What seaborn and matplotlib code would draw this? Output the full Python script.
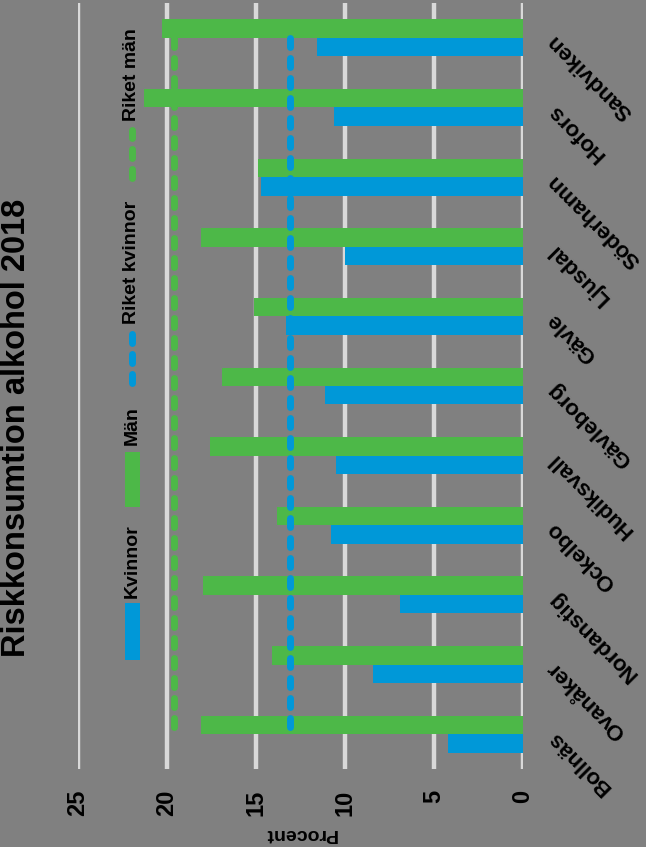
import numpy as np
import pandas as pd
import matplotlib
matplotlib.use("Agg")
import matplotlib.pyplot as plt
import seaborn as sns
from matplotlib.patches import Rectangle
from matplotlib.lines import Line2D

# ---------------- data ----------------
kommuner = ["Sandviken", "Hofors", "Söderhamn", "Ljusdal", "Gävle", "Gävleborg",
            "Hudiksvall", "Ockelbo", "Nordanstig", "Ovanåker", "Bollnäs"]
kvinnor = [11.6, 10.6, 14.7, 10.0, 13.3, 11.1, 10.5, 10.8, 6.9, 8.4, 4.2]
man = [20.3, 21.3, 14.9, 18.1, 15.1, 16.9, 17.6, 13.8, 18.0, 14.1, 18.1]
riket_kvinnor = [13.1, 13.1, 13.1, 13.1, 13.1, 13.1, 13.1, 13.1, 13.1, 13.1, 13.1]
riket_man = [19.6, 19.6, 19.6, 19.6, 19.6, 19.6, 19.6, 19.6, 19.6, 19.6, 19.6]
x_ticks = [0, 5, 10, 15, 20, 25]
series_names = ["Kvinnor", "Män", "Riket kvinnor", "Riket män"]
title = "Riskkonsumtion alkohol 2018"
x_label = "Procent"

BG = "#808080"
BLUE = "#0098D8"
GREEN = "#4DB848"
GRID = "#D9D9D9"

sns.set_theme(style="white")
plt.rcParams["font.family"] = ["Liberation Sans", "DejaVu Sans"]

df = pd.DataFrame({
    "Kommun": kommuner + kommuner,
    "Kön": [series_names[0]] * len(kommuner) + [series_names[1]] * len(kommuner),
    "Procent": kvinnor + man,
})

W, H = 646, 847
fig = plt.figure(figsize=(W / 100, H / 100), dpi=100, facecolor=BG)
ax = fig.add_axes([78 / W, 78 / H, 445 / W, 766 / H])
ax.set_facecolor(BG)

sns.barplot(data=df, y="Kommun", x="Procent", hue="Kön", order=kommuner,
            hue_order=[series_names[1], series_names[0]],
            palette={series_names[0]: BLUE, series_names[1]: GREEN},
            width=0.53, saturation=1, linewidth=0, edgecolor="none",
            errorbar=None, legend=False, orient="h", ax=ax)

pos = np.arange(len(kommuner))
dash = (0, (1.3, 1.58))
ax.plot(riket_kvinnor, pos, color=BLUE, lw=5, linestyle=dash,
        dash_capstyle="round", zorder=5)
ax.plot(riket_man, pos, color=GREEN, lw=5, linestyle=dash,
        dash_capstyle="round", zorder=5)

ax.set_xlim(25, 0)
ax.set_ylim(len(kommuner) - 0.5, -0.5)
ax.set_xticks(x_ticks)
ax.set_axisbelow(True)
ax.grid(axis="x", color=GRID, lw=3.2, solid_capstyle="round")
ax.grid(axis="y", visible=False)
for s in ax.spines.values():
    s.set_visible(False)

ax.tick_params(axis="x", length=0, pad=15, labelsize=17, labelrotation=90,
               labelcolor="black")
ax.yaxis.tick_right()
ax.tick_params(axis="y", length=0, pad=20, labelsize=16, labelcolor="black")
for lab in ax.get_xticklabels():
    lab.set_fontweight("bold")
for lab in ax.get_yticklabels():
    lab.set(rotation=135, rotation_mode="anchor", ha="right", va="center",
            fontweight="bold")
ax.set_ylabel("")
ax.set_xlabel(x_label, rotation=180, fontsize=14, fontweight="bold",
              labelpad=6, color="black")

# title
fig.text(17 / W, 1 - 427.5 / H, title, rotation=90, ha="center", va="center",
         fontsize=23.5, fontweight="bold", color="black")

# manual (rotated) legend
def fy(px):
    return 1 - px / H

lx = 132 / W
fig.add_artist(Rectangle((125 / W, fy(660)), 15 / W, 57 / H,
                         transform=fig.transFigure, color=BLUE, lw=0))
fig.text(lx, fy(561.5), series_names[0], rotation=90, ha="center", va="center",
         fontsize=14, fontweight="bold", color="black")
fig.add_artist(Rectangle((125 / W, fy(507)), 15 / W, 55 / H,
                         transform=fig.transFigure, color=GREEN, lw=0))
fig.text(lx, fy(426), series_names[1], rotation=90, ha="center", va="center",
         fontsize=14, fontweight="bold", color="black")
fig.add_artist(Line2D([lx, lx], [fy(383), fy(333)], transform=fig.transFigure,
                      color=BLUE, lw=5, linestyle=dash, dash_capstyle="round"))
fig.text(lx, fy(262.5), series_names[2], rotation=90, ha="center", va="center",
         fontsize=14, fontweight="bold", color="black")
fig.add_artist(Line2D([lx, lx], [fy(178), fy(130)], transform=fig.transFigure,
                      color=GREEN, lw=5, linestyle=dash, dash_capstyle="round"))
fig.text(lx, fy(75), series_names[3], rotation=90, ha="center", va="center",
         fontsize=14, fontweight="bold", color="black")

fig.savefig("out.png", dpi=100, facecolor=BG)
